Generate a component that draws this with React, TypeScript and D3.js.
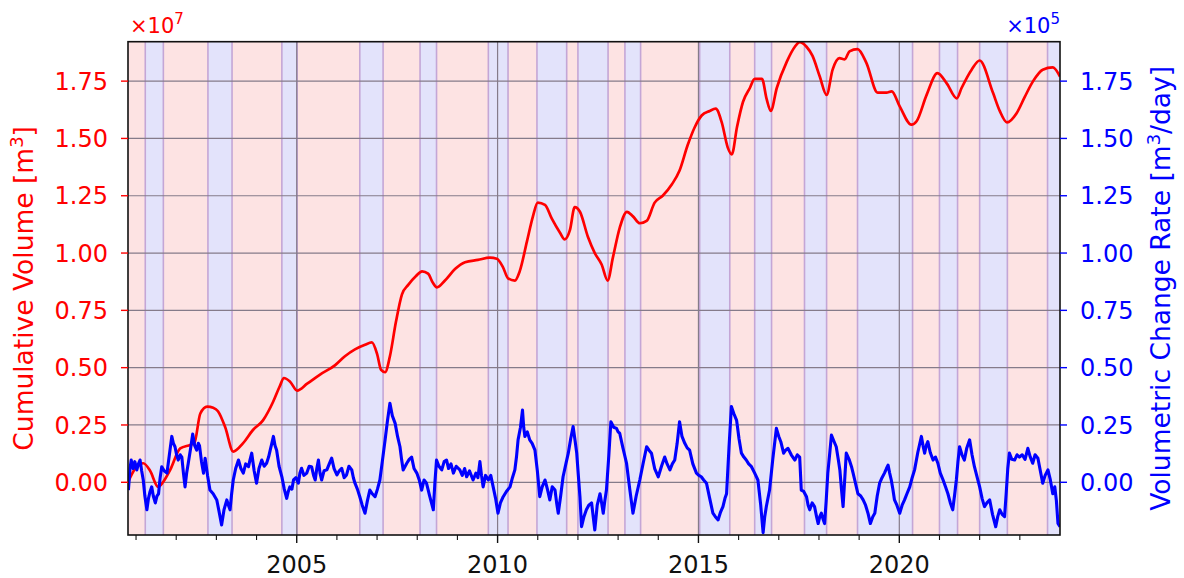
import React from 'react';
import * as d3 from 'd3';

const W = 1184;
const H = 578;

// Band edges (decimal years); bands alternate pink, blue, pink, ...
const bandEdges = [2000.8, 2001.23, 2001.68, 2002.79, 2003.39, 2004.63, 2005.01, 2006.57, 2007.15, 2008.07, 2008.48, 2009.77, 2010.26, 2010.98, 2011.72, 2012.0, 2012.75, 2013.17, 2013.56, 2015.03, 2015.78, 2016.4, 2016.82, 2017.64, 2018.19, 2018.96, 2020.33, 2021.0, 2021.45, 2022.0, 2022.69, 2023.69, 2024.0];

const majorYears = [2005, 2010, 2015, 2020];
const minorYears = [2001, 2002, 2003, 2004, 2006, 2007, 2008, 2009, 2011, 2012, 2013, 2014, 2016, 2017, 2018, 2019, 2021, 2022, 2023];
const yTicks = [0, 0.25, 0.5, 0.75, 1.0, 1.25, 1.5, 1.75];

// Cumulative volume (x10^7 m^3)
const redSeries: [number, number][] = [
  [2000.80, 0.00], [2000.98, 0.06], [2001.18, 0.083], [2001.35, 0.05], [2001.55, -0.02], [2001.67, 0.00],
  [2001.85, 0.054], [2002.10, 0.148], [2002.35, 0.163], [2002.45, 0.17], [2002.60, 0.30], [2002.77, 0.33],
  [2002.92, 0.325], [2003.04, 0.31], [2003.22, 0.24], [2003.42, 0.134], [2003.66, 0.17], [2003.91, 0.228],
  [2004.16, 0.27], [2004.41, 0.35], [2004.58, 0.42], [2004.68, 0.455], [2004.83, 0.44], [2005.01, 0.40],
  [2005.26, 0.43], [2005.58, 0.47], [2005.95, 0.51], [2006.20, 0.55], [2006.45, 0.58], [2006.70, 0.60],
  [2006.87, 0.61], [2007.00, 0.56], [2007.10, 0.49], [2007.20, 0.48], [2007.32, 0.55], [2007.47, 0.70],
  [2007.62, 0.82], [2007.77, 0.86], [2007.97, 0.90], [2008.12, 0.92], [2008.27, 0.91], [2008.39, 0.87],
  [2008.49, 0.85], [2008.69, 0.88], [2008.94, 0.93], [2009.19, 0.96], [2009.51, 0.97], [2009.81, 0.98],
  [2009.98, 0.975], [2010.13, 0.94], [2010.26, 0.89], [2010.43, 0.88], [2010.55, 0.92], [2010.73, 1.05],
  [2010.88, 1.16], [2011.00, 1.22], [2011.18, 1.21], [2011.35, 1.15], [2011.55, 1.09], [2011.67, 1.06],
  [2011.80, 1.10], [2011.92, 1.20], [2012.05, 1.18], [2012.25, 1.07], [2012.42, 1.00], [2012.59, 0.95],
  [2012.74, 0.88], [2012.87, 0.98], [2013.04, 1.11], [2013.22, 1.18], [2013.37, 1.16], [2013.54, 1.13],
  [2013.71, 1.14], [2013.91, 1.22], [2014.11, 1.25], [2014.34, 1.30], [2014.53, 1.36], [2014.73, 1.47],
  [2014.91, 1.55], [2015.08, 1.60], [2015.28, 1.62], [2015.43, 1.63], [2015.58, 1.57], [2015.73, 1.46],
  [2015.83, 1.43], [2015.96, 1.55], [2016.11, 1.66], [2016.28, 1.72], [2016.40, 1.76], [2016.58, 1.76],
  [2016.70, 1.67], [2016.80, 1.62], [2016.95, 1.72], [2017.20, 1.835], [2017.40, 1.90], [2017.52, 1.92],
  [2017.69, 1.90], [2017.84, 1.86], [2018.02, 1.77], [2018.19, 1.69], [2018.34, 1.80], [2018.51, 1.85],
  [2018.64, 1.845], [2018.76, 1.88], [2018.96, 1.89], [2019.18, 1.83], [2019.46, 1.70], [2019.68, 1.70],
  [2019.81, 1.705], [2020.01, 1.64], [2020.30, 1.56], [2020.43, 1.575], [2020.68, 1.69], [2020.95, 1.785],
  [2021.18, 1.74], [2021.43, 1.675], [2021.55, 1.72], [2021.80, 1.80], [2022.00, 1.84], [2022.33, 1.70],
  [2022.50, 1.62], [2022.68, 1.57], [2022.92, 1.61], [2023.12, 1.68], [2023.33, 1.75], [2023.57, 1.80],
  [2023.82, 1.81], [2024.00, 1.77],
];

// Volumetric change rate (x10^5 m^3/day)
const blueSeries: [number, number][] = [
  [2000.81, -0.034], [2000.85, 0.06], [2000.88, 0.097], [2000.93, 0.06], [2000.97, 0.09], [2001.02, 0.054],
  [2001.06, 0.08], [2001.10, 0.097], [2001.14, 0.05], [2001.18, 0.01], [2001.22, -0.06], [2001.27, -0.12],
  [2001.31, -0.07], [2001.35, -0.04], [2001.39, -0.02], [2001.43, -0.06], [2001.48, -0.09], [2001.52, -0.06],
  [2001.56, -0.05], [2001.60, 0.02], [2001.64, 0.068], [2001.70, 0.05], [2001.77, 0.04], [2001.83, 0.12],
  [2001.89, 0.20], [2001.93, 0.17], [2001.97, 0.155], [2002.01, 0.12], [2002.05, 0.097], [2002.10, 0.12],
  [2002.14, 0.11], [2002.18, 0.04], [2002.22, -0.02], [2002.26, 0.04], [2002.30, 0.083], [2002.36, 0.15],
  [2002.41, 0.21], [2002.46, 0.16], [2002.51, 0.14], [2002.55, 0.17], [2002.58, 0.16], [2002.63, 0.09],
  [2002.68, 0.04], [2002.72, 0.105], [2002.78, 0.03], [2002.84, -0.034], [2002.92, -0.05], [2003.01, -0.077],
  [2003.07, -0.13], [2003.13, -0.186], [2003.19, -0.12], [2003.26, -0.077], [2003.30, -0.10], [2003.34, -0.12],
  [2003.38, -0.05], [2003.42, 0.01], [2003.48, 0.06], [2003.55, 0.097], [2003.61, 0.06], [2003.67, 0.04],
  [2003.73, 0.08], [2003.80, 0.068], [2003.84, 0.10], [2003.88, 0.127], [2003.94, 0.05], [2004.00, -0.004],
  [2004.06, 0.06], [2004.13, 0.097], [2004.19, 0.07], [2004.25, 0.083], [2004.30, 0.11], [2004.34, 0.14],
  [2004.38, 0.17], [2004.42, 0.20], [2004.46, 0.16], [2004.50, 0.14], [2004.56, 0.07], [2004.63, 0.024],
  [2004.69, -0.03], [2004.75, -0.07], [2004.79, -0.04], [2004.83, -0.02], [2004.88, -0.03], [2004.92, 0.01],
  [2004.98, 0.02], [2005.04, -0.004], [2005.08, 0.04], [2005.12, 0.061], [2005.18, 0.03], [2005.25, 0.04],
  [2005.31, 0.07], [2005.37, 0.068], [2005.42, 0.03], [2005.46, 0.01], [2005.50, 0.06], [2005.54, 0.097],
  [2005.58, 0.04], [2005.62, 0.01], [2005.68, 0.05], [2005.75, 0.054], [2005.81, 0.08], [2005.87, 0.105],
  [2005.93, 0.06], [2006.00, 0.032], [2006.06, 0.05], [2006.12, 0.061], [2006.18, 0.02], [2006.24, 0.032],
  [2006.30, 0.07], [2006.37, 0.054], [2006.41, 0.02], [2006.45, -0.004], [2006.51, -0.03], [2006.57, -0.063],
  [2006.63, -0.10], [2006.70, -0.135], [2006.76, -0.08], [2006.82, -0.034], [2006.88, -0.05], [2006.95, -0.063],
  [2007.01, -0.03], [2007.07, 0.01], [2007.13, 0.09], [2007.20, 0.185], [2007.26, 0.27], [2007.32, 0.345],
  [2007.38, 0.29], [2007.45, 0.257], [2007.51, 0.20], [2007.57, 0.155], [2007.61, 0.10], [2007.65, 0.054],
  [2007.70, 0.07], [2007.74, 0.083], [2007.80, 0.10], [2007.86, 0.11], [2007.92, 0.06], [2007.99, 0.04],
  [2008.05, 0.01], [2008.11, -0.034], [2008.17, 0.01], [2008.23, -0.004], [2008.31, -0.06], [2008.40, -0.12],
  [2008.44, 0.00], [2008.48, 0.097], [2008.54, 0.07], [2008.61, 0.054], [2008.67, 0.09], [2008.73, 0.097],
  [2008.78, 0.06], [2008.84, 0.08], [2008.90, 0.04], [2008.97, 0.07], [2009.06, 0.054], [2009.12, 0.03],
  [2009.18, 0.06], [2009.23, 0.024], [2009.30, 0.05], [2009.39, 0.01], [2009.46, 0.04], [2009.51, 0.02],
  [2009.56, 0.09], [2009.60, 0.03], [2009.64, -0.02], [2009.70, 0.03], [2009.77, 0.01], [2009.83, 0.03],
  [2009.89, -0.02], [2009.95, -0.07], [2010.01, -0.135], [2010.07, -0.09], [2010.14, -0.063], [2010.22, -0.04],
  [2010.31, -0.02], [2010.37, 0.02], [2010.43, 0.054], [2010.47, 0.11], [2010.51, 0.185], [2010.57, 0.24],
  [2010.62, 0.315], [2010.65, 0.24], [2010.68, 0.20], [2010.74, 0.22], [2010.80, 0.185], [2010.86, 0.17],
  [2010.93, 0.14], [2010.99, 0.05], [2011.05, -0.063], [2011.11, -0.02], [2011.18, 0.01], [2011.24, -0.03],
  [2011.30, -0.077], [2011.36, -0.02], [2011.43, -0.034], [2011.47, -0.09], [2011.51, -0.135], [2011.57, -0.06],
  [2011.63, 0.024], [2011.70, 0.08], [2011.76, 0.127], [2011.82, 0.19], [2011.88, 0.243], [2011.93, 0.18],
  [2011.97, 0.127], [2012.01, 0.03], [2012.05, -0.063], [2012.09, -0.194], [2012.15, -0.15], [2012.21, -0.12],
  [2012.27, -0.10], [2012.34, -0.09], [2012.38, -0.15], [2012.42, -0.208], [2012.48, -0.10], [2012.55, -0.05],
  [2012.59, -0.09], [2012.63, -0.135], [2012.67, -0.08], [2012.71, -0.034], [2012.77, 0.12], [2012.82, 0.264],
  [2012.89, 0.24], [2012.96, 0.235], [2013.00, 0.22], [2013.04, 0.214], [2013.12, 0.15], [2013.21, 0.083],
  [2013.29, -0.03], [2013.37, -0.135], [2013.45, -0.06], [2013.54, 0.01], [2013.62, 0.08], [2013.71, 0.155],
  [2013.77, 0.14], [2013.83, 0.127], [2013.91, 0.06], [2014.00, 0.024], [2014.08, 0.07], [2014.16, 0.11],
  [2014.22, 0.08], [2014.29, 0.054], [2014.35, 0.08], [2014.41, 0.097], [2014.47, 0.17], [2014.53, 0.264],
  [2014.59, 0.20], [2014.66, 0.17], [2014.72, 0.15], [2014.78, 0.14], [2014.86, 0.08], [2014.95, 0.04],
  [2015.01, 0.03], [2015.07, 0.024], [2015.13, 0.01], [2015.20, -0.004], [2015.28, -0.07], [2015.36, -0.135],
  [2015.42, -0.15], [2015.49, -0.164], [2015.55, -0.13], [2015.61, -0.106], [2015.66, -0.07], [2015.70, -0.05],
  [2015.76, 0.15], [2015.82, 0.33], [2015.88, 0.30], [2015.95, 0.27], [2016.01, 0.19], [2016.07, 0.127],
  [2016.13, 0.11], [2016.19, 0.097], [2016.25, 0.08], [2016.32, 0.068], [2016.40, 0.04], [2016.48, 0.01],
  [2016.55, -0.10], [2016.61, -0.22], [2016.65, -0.15], [2016.69, -0.106], [2016.73, -0.07], [2016.77, -0.034],
  [2016.85, 0.10], [2016.94, 0.235], [2017.00, 0.20], [2017.05, 0.177], [2017.12, 0.127], [2017.17, 0.14],
  [2017.23, 0.148], [2017.31, 0.12], [2017.40, 0.097], [2017.46, 0.12], [2017.52, 0.11], [2017.56, -0.034],
  [2017.62, -0.04], [2017.69, -0.063], [2017.73, -0.10], [2017.77, -0.12], [2017.83, -0.09], [2017.89, -0.106],
  [2017.94, -0.15], [2017.98, -0.18], [2018.02, -0.15], [2018.06, -0.135], [2018.10, -0.16], [2018.14, -0.18],
  [2018.18, -0.08], [2018.22, 0.04], [2018.27, 0.13], [2018.31, 0.206], [2018.37, 0.18], [2018.43, 0.155],
  [2018.48, 0.10], [2018.52, 0.054], [2018.56, -0.03], [2018.60, -0.106], [2018.64, 0.01], [2018.68, 0.127],
  [2018.75, 0.10], [2018.81, 0.068], [2018.85, 0.04], [2018.89, 0.01], [2018.93, -0.02], [2018.97, -0.05],
  [2019.04, -0.06], [2019.10, -0.077], [2019.16, -0.10], [2019.22, -0.135], [2019.28, -0.18], [2019.34, -0.15],
  [2019.39, -0.135], [2019.45, -0.06], [2019.51, -0.004], [2019.57, 0.02], [2019.63, 0.04], [2019.68, 0.06],
  [2019.72, 0.075], [2019.76, 0.04], [2019.80, 0.01], [2019.84, -0.03], [2019.88, -0.077], [2019.94, -0.10],
  [2020.01, -0.135], [2020.07, -0.10], [2020.13, -0.077], [2020.19, -0.05], [2020.26, -0.02], [2020.32, 0.02],
  [2020.38, 0.054], [2020.46, 0.13], [2020.55, 0.20], [2020.59, 0.16], [2020.63, 0.127], [2020.67, 0.16],
  [2020.71, 0.177], [2020.77, 0.13], [2020.84, 0.097], [2020.90, 0.11], [2020.96, 0.083], [2021.02, 0.04],
  [2021.09, 0.01], [2021.15, -0.02], [2021.21, -0.05], [2021.27, -0.09], [2021.33, -0.12], [2021.38, -0.05],
  [2021.42, 0.01], [2021.46, 0.09], [2021.50, 0.155], [2021.56, 0.12], [2021.62, 0.097], [2021.68, 0.15],
  [2021.75, 0.185], [2021.81, 0.12], [2021.87, 0.068], [2021.94, 0.02], [2022.00, -0.02], [2022.06, -0.07],
  [2022.12, -0.106], [2022.18, -0.09], [2022.25, -0.077], [2022.32, -0.14], [2022.40, -0.194], [2022.45, -0.15],
  [2022.50, -0.12], [2022.56, -0.14], [2022.62, -0.15], [2022.66, -0.05], [2022.70, 0.06], [2022.74, 0.127],
  [2022.80, 0.10], [2022.87, 0.097], [2022.93, 0.12], [2022.99, 0.11], [2023.06, 0.12], [2023.13, 0.10],
  [2023.20, 0.148], [2023.26, 0.11], [2023.32, 0.083], [2023.38, 0.12], [2023.45, 0.105], [2023.51, 0.05],
  [2023.57, -0.004], [2023.63, 0.03], [2023.70, 0.054], [2023.76, 0.01], [2023.82, -0.05], [2023.87, -0.02],
  [2023.91, -0.08], [2023.95, -0.18], [2024.00, -0.194],
];

const PINK = '#fde3e3';
const BLUE = '#e3e3fb';
const FONT = 'DejaVu Sans, Verdana, sans-serif';

export default function App() {
  const left = 128, right = 1060, top = 41.7, bottom = 535;
  const x = d3.scaleLinear().domain([2000.8, 2024.0]).range([left, right]);
  const y = d3.scaleLinear().domain([-0.23, 1.922]).range([bottom, top]);

  const redLine = d3.line<[number, number]>()
    .x(d => x(d[0])).y(d => y(d[1])).curve(d3.curveMonotoneX);
  const blueLine = d3.line<[number, number]>()
    .x(d => x(d[0])).y(d => y(d[1]));

  const bands = d3.range(bandEdges.length - 1).map(i => ({
    x0: bandEdges[i], x1: bandEdges[i + 1], blue: i % 2 === 1,
  }));

  return (
    <svg width={W} height={H} style={{ position: 'absolute', left: 0, top: 0, background: '#fff' }}
      fontFamily={FONT}>
      <defs>
        <clipPath id="plot">
          <rect x={left} y={top} width={right - left} height={bottom - top} />
        </clipPath>
      </defs>
      {/* bands */}
      {bands.map((b, i) => (
        <rect key={'b' + i} x={x(b.x0)} y={top} width={x(b.x1) - x(b.x0)} height={bottom - top}
          fill={b.blue ? BLUE : PINK} />
      ))}
      {bandEdges.slice(1, -1).map((e, i) => (
        <line key={'e' + i} x1={x(e)} x2={x(e)} y1={top} y2={bottom} stroke="#c4a6d6" strokeWidth={1.6} />
      ))}
      {/* grid */}
      {yTicks.map(t => (
        <line key={'gy' + t} x1={left} x2={right} y1={y(t)} y2={y(t)} stroke="#857b8a" strokeWidth={1.2} />
      ))}
      {majorYears.map(t => (
        <line key={'gx' + t} x1={x(t)} x2={x(t)} y1={top} y2={bottom} stroke="#857b8a" strokeWidth={1.2} />
      ))}
      {/* lines */}
      <g clipPath="url(#plot)">
        <path d={redLine(redSeries) || ''} fill="none" stroke="#ff0000" strokeWidth={2.7} strokeLinejoin="round" />
        <path d={blueLine(blueSeries) || ''} fill="none" stroke="#0000ff" strokeWidth={3.1} strokeLinejoin="round" />
      </g>
      {/* frame */}
      <rect x={left} y={top} width={right - left} height={bottom - top} fill="none" stroke="#111" strokeWidth={1.6} />
      {/* left axis */}
      {yTicks.map(t => (
        <g key={'ly' + t}>
          <line x1={left - 7} x2={left} y1={y(t)} y2={y(t)} stroke="#ff0000" strokeWidth={1.4} />
          <text x={108} y={y(t)} dy="0.36em" textAnchor="end" fontSize={24} fill="#ff0000">{t.toFixed(2)}</text>
        </g>
      ))}
      {/* right axis */}
      {yTicks.map(t => (
        <g key={'ry' + t}>
          <line x1={right} x2={right + 7} y1={y(t)} y2={y(t)} stroke="#0000ff" strokeWidth={1.4} />
          <text x={1080} y={y(t)} dy="0.36em" textAnchor="start" fontSize={24} fill="#0000ff">{t.toFixed(2)}</text>
        </g>
      ))}
      {/* bottom axis */}
      {majorYears.map(t => (
        <g key={'mx' + t}>
          <line x1={x(t)} x2={x(t)} y1={bottom} y2={bottom + 8} stroke="#111" strokeWidth={1.4} />
          <text x={x(t)} y={573} textAnchor="middle" fontSize={24} fill="#111">{t}</text>
        </g>
      ))}
      {minorYears.map(t => (
        <line key={'nx' + t} x1={x(t)} x2={x(t)} y1={bottom} y2={bottom + 5} stroke="#111" strokeWidth={1.1} />
      ))}
      {/* multipliers */}
      <text x={130} y={33} fontSize={21} fill="#ff0000">×10<tspan fontSize={15} dy={-9}>7</tspan></text>
      <text x={1060} y={33} fontSize={21} fill="#0000ff" textAnchor="end">×10<tspan fontSize={15} dy={-9}>5</tspan></text>
      {/* axis titles */}
      <text transform={`translate(33,${(top + bottom) / 2}) rotate(-90)`} textAnchor="middle" fontSize={26.5} fill="#ff0000">
        Cumulative Volume [m<tspan fontSize={18} dy={-10}>3</tspan><tspan dy={10}>]</tspan>
      </text>
      <text transform={`translate(1170,${(top + bottom) / 2}) rotate(-90)`} textAnchor="middle" fontSize={26.5} fill="#0000ff">
        Volumetric Change Rate [m<tspan fontSize={18} dy={-10}>3</tspan><tspan dy={10}>/day]</tspan>
      </text>
    </svg>
  );
}
